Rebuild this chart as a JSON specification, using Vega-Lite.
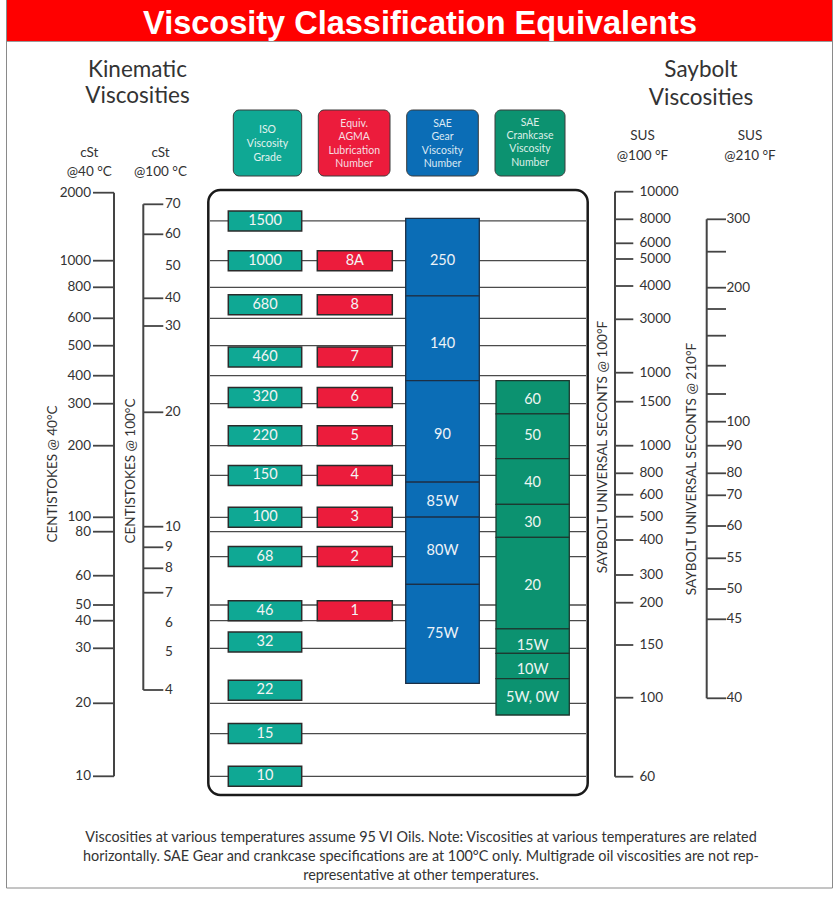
{
  "$schema": "https://vega.github.io/schema/vega-lite/v6.json",
  "width": 837,
  "height": 898,
  "padding": 0,
  "autosize": {"type": "none"},
  "background": "white",
  "config": {"view": {"stroke": null}, "axis": {"disable": true}, "text": {"font": "Lato", "color": "#333333"}},
  "datasets": {
    "cst40": [{"v": 2000}, {"v": 1000}, {"v": 800}, {"v": 600}, {"v": 500}, {"v": 400}, {"v": 300}, {"v": 200}, {"v": 100}, {"v": 80}, {"v": 60}, {"v": 50}, {"v": 40}, {"v": 30}, {"v": 20}, {"v": 10}],
    "gridlines": [{"v": 1500}, {"v": 1000}, {"v": 800}, {"v": 600}, {"v": 500}, {"v": 400}, {"v": 300}, {"v": 200}, {"v": 150}, {"v": 100}, {"v": 80}, {"v": 68}, {"v": 50}, {"v": 40}, {"v": 30}, {"v": 20}, {"v": 15}, {"v": 10}],
    "iso": [
      {"iso": 1500, "agma": null}, {"iso": 1000, "agma": "8A"}, {"iso": 680, "agma": "8"}, {"iso": 460, "agma": "7"},
      {"iso": 320, "agma": "6"}, {"iso": 220, "agma": "5"}, {"iso": 150, "agma": "4"}, {"iso": 100, "agma": "3"},
      {"iso": 68, "agma": "2"}, {"iso": 46, "agma": "1"}, {"iso": 32, "agma": null}, {"iso": 22, "agma": null},
      {"iso": 15, "agma": null}, {"iso": 10, "agma": null}
    ],
    "cst100": [
      {"v": 70, "tick": true}, {"v": 60, "tick": true}, {"v": 50, "tick": false}, {"v": 40, "tick": true},
      {"v": 30, "tick": true}, {"v": 20, "tick": true}, {"v": 10, "tick": true}, {"v": 9, "tick": true},
      {"v": 8, "tick": true}, {"v": 7, "tick": true}, {"v": 6, "tick": false}, {"v": 5, "tick": false}, {"v": 4, "tick": true}
    ],
    "gear": [
      {"sae": "250", "lo": 40.7, "hi": 65.1, "at": 51.5},
      {"sae": "140", "lo": 23.2, "hi": 40.7, "at": 27.6},
      {"sae": "90", "lo": 13.1, "hi": 23.2, "at": 17.4},
      {"sae": "85W", "lo": 10.6, "hi": 13.1, "at": 11.6},
      {"sae": "80W", "lo": 7.33, "hi": 10.6, "at": 8.8},
      {"sae": "75W", "lo": 4.16, "hi": 7.33, "at": 5.6}
    ],
    "crank": [
      {"sae": "60", "lo": 19.8, "hi": 23.2, "at": 21.2},
      {"sae": "50", "lo": 15.1, "hi": 19.8, "at": 17.3},
      {"sae": "40", "lo": 11.45, "hi": 15.1, "at": 13.0},
      {"sae": "30", "lo": 9.47, "hi": 11.45, "at": 10.2},
      {"sae": "20", "lo": 5.79, "hi": 9.47, "at": 7.26},
      {"sae": "15W", "lo": 4.97, "hi": 5.79, "at": 5.21},
      {"sae": "10W", "lo": 4.28, "hi": 4.97, "at": 4.49},
      {"sae": "5W, 0W", "lo": 3.45, "hi": 4.28, "at": 3.81}
    ],
    "sus100": [
      {"v": 10000, "t": "10000"}, {"v": 8000, "t": "8000"}, {"v": 6000, "t": "6000"}, {"v": 5000, "t": "5000"},
      {"v": 4000, "t": "4000"}, {"v": 3000, "t": "3000"}, {"v": 2000, "t": "1000"}, {"v": 1500, "t": "1500"},
      {"v": 1000, "t": "1000"}, {"v": 800, "t": "800"}, {"v": 600, "t": "600"}, {"v": 500, "t": "500"},
      {"v": 400, "t": "400"}, {"v": 300, "t": "300"}, {"v": 200, "t": "200"}, {"v": 150, "t": "150"},
      {"v": 100, "t": "100"}, {"v": 60, "t": "60"}
    ],
    "sus210": [
      {"v": 300, "t": "300"}, {"v": 250, "t": ""}, {"v": 200, "t": "200"}, {"v": 180, "t": ""},
      {"v": 160, "t": ""}, {"v": 140, "t": ""}, {"v": 120, "t": ""}, {"v": 100, "t": "100"},
      {"v": 90, "t": "90"}, {"v": 80, "t": "80"}, {"v": 70, "t": "70"}, {"v": 60, "t": "60"},
      {"v": 55, "t": "55"}, {"v": 50, "t": "50"}, {"v": 45, "t": "45"}, {"v": 40, "t": "40"}
    ]
  },
  "resolve": {"scale": {"y": "independent"}},
  "layer": [
    {
      "data": {"values": [{}]},
      "layer": [
        {"mark": {"type": "rect", "filled": false, "color": "#8a8a8a", "strokeWidth": 1},
         "encoding": {"x": {"datum": 6.5, "type": "quantitative", "scale": {"domain": [0, 837], "nice": false, "zero": false}}, "x2": {"datum": 832.5},
                      "y": {"datum": 0, "type": "quantitative", "scale": {"domain": [0, 898], "range": [0, 898], "nice": false, "zero": false}}, "y2": {"datum": 888}}},
        {"mark": {"type": "rect", "color": "#ff0000"},
         "encoding": {"x": {"datum": 7, "type": "quantitative"}, "x2": {"datum": 832}, "y": {"datum": 0, "type": "quantitative"}, "y2": {"datum": 41}}},
        {"mark": {"type": "rule", "color": "#9a9a9a", "strokeWidth": 1},
         "encoding": {"x": {"datum": 7, "type": "quantitative"}, "x2": {"datum": 832}, "y": {"datum": 41.5, "type": "quantitative"}}},
        {"mark": {"type": "text", "text": "Viscosity Classification Equivalents", "font": "Liberation Sans", "fontWeight": "bold", "fontSize": 32.5, "color": "#ffffff", "align": "center", "baseline": "alphabetic"},
         "encoding": {"x": {"datum": 420, "type": "quantitative"}, "y": {"datum": 33.5, "type": "quantitative"}}},
        {"mark": {"type": "text", "text": ["Kinematic", "Viscosities"], "fontSize": 22.5, "lineHeight": 26, "align": "center", "baseline": "alphabetic"},
         "encoding": {"x": {"datum": 137.5, "type": "quantitative"}, "y": {"datum": 77.3, "type": "quantitative"}}},
        {"mark": {"type": "text", "text": ["Saybolt", "Viscosities"], "fontSize": 22.5, "lineHeight": 28, "align": "center", "baseline": "alphabetic"},
         "encoding": {"x": {"datum": 701, "type": "quantitative"}, "y": {"datum": 76.7, "type": "quantitative"}}},
        {"mark": {"type": "text", "text": ["cSt", "@40 °C"], "fontSize": 13.5, "lineHeight": 19.5, "align": "center", "baseline": "alphabetic"},
         "encoding": {"x": {"datum": 89.3, "type": "quantitative"}, "y": {"datum": 156.5, "type": "quantitative"}}},
        {"mark": {"type": "text", "text": ["cSt", "@100 °C"], "fontSize": 13.5, "lineHeight": 19.5, "align": "center", "baseline": "alphabetic"},
         "encoding": {"x": {"datum": 160.5, "type": "quantitative"}, "y": {"datum": 156.5, "type": "quantitative"}}},
        {"mark": {"type": "text", "text": ["SUS", "@100 °F"], "fontSize": 13.5, "lineHeight": 19.5, "align": "center", "baseline": "alphabetic"},
         "encoding": {"x": {"datum": 642.5, "type": "quantitative"}, "y": {"datum": 140, "type": "quantitative"}}},
        {"mark": {"type": "text", "text": ["SUS", "@210 °F"], "fontSize": 13.5, "lineHeight": 19.5, "align": "center", "baseline": "alphabetic"},
         "encoding": {"x": {"datum": 750, "type": "quantitative"}, "y": {"datum": 140, "type": "quantitative"}}},
        {"mark": {"type": "rect", "color": "#0fa894", "stroke": "#3a3a3a", "strokeWidth": 1, "cornerRadius": 6},
         "encoding": {"x": {"datum": 233.3, "type": "quantitative"}, "x2": {"datum": 301.7}, "y": {"datum": 110, "type": "quantitative"}, "y2": {"datum": 176}}},
        {"mark": {"type": "rect", "color": "#ec1c3c", "stroke": "#3a3a3a", "strokeWidth": 1, "cornerRadius": 6},
         "encoding": {"x": {"datum": 318.3, "type": "quantitative"}, "x2": {"datum": 390}, "y": {"datum": 110, "type": "quantitative"}, "y2": {"datum": 176}}},
        {"mark": {"type": "rect", "color": "#0b6db6", "stroke": "#3a3a3a", "strokeWidth": 1, "cornerRadius": 6},
         "encoding": {"x": {"datum": 406.7, "type": "quantitative"}, "x2": {"datum": 478.3}, "y": {"datum": 110, "type": "quantitative"}, "y2": {"datum": 176}}},
        {"mark": {"type": "rect", "color": "#0c9270", "stroke": "#3a3a3a", "strokeWidth": 1, "cornerRadius": 6},
         "encoding": {"x": {"datum": 495, "type": "quantitative"}, "x2": {"datum": 565}, "y": {"datum": 110, "type": "quantitative"}, "y2": {"datum": 176}}},
        {"mark": {"type": "text", "text": ["ISO", "Viscosity", "Grade"], "fontSize": 10.5, "lineHeight": 14, "color": "#e2f3ef", "align": "center", "baseline": "middle"},
         "encoding": {"x": {"datum": 267.5, "type": "quantitative"}, "y": {"datum": 130, "type": "quantitative"}}},
        {"mark": {"type": "text", "text": ["Equiv.", "AGMA", "Lubrication", "Number"], "fontSize": 10.5, "lineHeight": 13.4, "color": "#f6dfe2", "align": "center", "baseline": "middle"},
         "encoding": {"x": {"datum": 354.2, "type": "quantitative"}, "y": {"datum": 124, "type": "quantitative"}}},
        {"mark": {"type": "text", "text": ["SAE", "Gear", "Viscosity", "Number"], "fontSize": 10.5, "lineHeight": 13.4, "color": "#dce9f4", "align": "center", "baseline": "middle"},
         "encoding": {"x": {"datum": 442.5, "type": "quantitative"}, "y": {"datum": 124, "type": "quantitative"}}},
        {"mark": {"type": "text", "text": ["SAE", "Crankcase", "Viscosity", "Number"], "fontSize": 10.5, "lineHeight": 13.4, "color": "#dcefe8", "align": "center", "baseline": "middle"},
         "encoding": {"x": {"datum": 530, "type": "quantitative"}, "y": {"datum": 122.7, "type": "quantitative"}}},
        {"mark": {"type": "rect", "filled": false, "color": "#1a1a1a", "strokeWidth": 2.5, "cornerRadius": 12},
         "encoding": {"x": {"datum": 208.3, "type": "quantitative"}, "x2": {"datum": 587.7}, "y": {"datum": 190, "type": "quantitative"}, "y2": {"datum": 795}}},
        {"mark": {"type": "text", "text": "CENTISTOKES @ 40°C", "fontSize": 13.5, "angle": 270, "align": "center", "baseline": "middle"},
         "encoding": {"x": {"datum": 53, "type": "quantitative"}, "y": {"datum": 474, "type": "quantitative"}}},
        {"mark": {"type": "text", "text": "CENTISTOKES @ 100°C", "fontSize": 13.5, "angle": 270, "align": "center", "baseline": "middle"},
         "encoding": {"x": {"datum": 131, "type": "quantitative"}, "y": {"datum": 471, "type": "quantitative"}}},
        {"mark": {"type": "text", "text": "SAYBOLT UNIVERSAL SECONTS @ 100°F", "fontSize": 13.6, "angle": 270, "align": "center", "baseline": "middle"},
         "encoding": {"x": {"datum": 603, "type": "quantitative"}, "y": {"datum": 447, "type": "quantitative"}}},
        {"mark": {"type": "text", "text": "SAYBOLT UNIVERSAL SECONTS @ 210°F", "fontSize": 13.6, "angle": 270, "align": "center", "baseline": "middle"},
         "encoding": {"x": {"datum": 692, "type": "quantitative"}, "y": {"datum": 469, "type": "quantitative"}}},
        {"mark": {"type": "text", "text": ["Viscosities at various temperatures assume 95 VI Oils. Note: Viscosities at various temperatures are related", "horizontally. SAE Gear and crankcase specifications are at 100°C only. Multigrade oil viscosities are not rep-", "representative at other temperatures."], "fontSize": 14.4, "lineHeight": 19, "align": "center", "baseline": "middle"},
         "encoding": {"x": {"datum": 421, "type": "quantitative"}, "y": {"datum": 838, "type": "quantitative"}}}
      ]
    },
    {
      "layer": [
        {"data": {"name": "gridlines"},
         "mark": {"type": "rule", "color": "#4a4a4a", "strokeWidth": 1.3},
         "encoding": {"x": {"datum": 210, "type": "quantitative"}, "x2": {"datum": 586},
                      "y": {"field": "v", "type": "quantitative", "scale": {"type": "log", "domain": [10, 20, 30, 40, 50, 60, 80, 100, 200, 300, 400, 500, 600, 800, 1000, 2000], "range": [776.3, 703.3, 648.3, 620.7, 605, 575.7, 531.7, 517.3, 445.7, 403.7, 375.7, 345.7, 318.3, 287.3, 260.7, 192.7], "nice": false}}}},
        {"data": {"values": [{}]},
         "mark": {"type": "rule", "color": "#444444", "strokeWidth": 2},
         "encoding": {"x": {"datum": 114, "type": "quantitative"}, "y": {"datum": 10, "type": "quantitative"}, "y2": {"datum": 2000}}},
        {"data": {"name": "cst40"},
         "mark": {"type": "rule", "color": "#444444", "strokeWidth": 1.8},
         "encoding": {"x": {"datum": 93, "type": "quantitative"}, "x2": {"datum": 114}, "y": {"field": "v", "type": "quantitative"}}},
        {"data": {"name": "cst40"},
         "mark": {"type": "text", "fontSize": 13.5, "align": "right", "baseline": "middle"},
         "encoding": {"x": {"datum": 91, "type": "quantitative"}, "y": {"field": "v", "type": "quantitative"}, "text": {"field": "v", "type": "nominal"}}},
        {"data": {"name": "iso"},
         "mark": {"type": "rect", "height": 20, "color": "#0fa894", "stroke": "#2b2b2b", "strokeWidth": 1.5},
         "encoding": {"x": {"datum": 228.3, "type": "quantitative"}, "x2": {"datum": 301.7}, "y": {"field": "iso", "type": "quantitative"}}},
        {"data": {"name": "iso"},
         "mark": {"type": "text", "fontSize": 14.5, "color": "#f4f4f4", "align": "center", "baseline": "middle"},
         "encoding": {"x": {"datum": 265, "type": "quantitative"}, "y": {"field": "iso", "type": "quantitative"}, "text": {"field": "iso", "type": "nominal"}}},
        {"data": {"name": "iso"},
         "transform": [{"filter": "datum.agma != null"}],
         "mark": {"type": "rect", "height": 20, "color": "#ec1c3c", "stroke": "#2b2b2b", "strokeWidth": 1.5},
         "encoding": {"x": {"datum": 317.3, "type": "quantitative"}, "x2": {"datum": 392.3}, "y": {"field": "iso", "type": "quantitative"}}},
        {"data": {"name": "iso"},
         "transform": [{"filter": "datum.agma != null"}],
         "mark": {"type": "text", "fontSize": 14.5, "color": "#f4f4f4", "align": "center", "baseline": "middle"},
         "encoding": {"x": {"datum": 354.8, "type": "quantitative"}, "y": {"field": "iso", "type": "quantitative"}, "text": {"field": "agma", "type": "nominal"}}}
      ]
    },
    {
      "layer": [
        {"data": {"values": [{}]},
         "mark": {"type": "rule", "color": "#444444", "strokeWidth": 2},
         "encoding": {"x": {"datum": 143.3, "type": "quantitative"},
                      "y": {"datum": 4, "type": "quantitative", "scale": {"type": "log", "domain": [4, 5, 6, 7, 8, 9, 10, 20, 30, 40, 50, 60, 70], "range": [690, 652.3, 623.3, 592.7, 568.3, 547.3, 526.7, 412.3, 326, 298.3, 266, 234.3, 204.3], "nice": false}},
                      "y2": {"datum": 70}}},
        {"data": {"name": "cst100"},
         "transform": [{"filter": "datum.tick"}],
         "mark": {"type": "rule", "color": "#444444", "strokeWidth": 1.8},
         "encoding": {"x": {"datum": 143.3, "type": "quantitative"}, "x2": {"datum": 163.3}, "y": {"field": "v", "type": "quantitative"}}},
        {"data": {"name": "cst100"},
         "mark": {"type": "text", "fontSize": 13.5, "align": "left", "baseline": "middle"},
         "encoding": {"x": {"datum": 165, "type": "quantitative"}, "y": {"field": "v", "type": "quantitative"}, "text": {"field": "v", "type": "nominal"}}},
        {"data": {"name": "gear"},
         "mark": {"type": "rect", "color": "#0b6db6", "stroke": "#1c2f45", "strokeWidth": 1.3},
         "encoding": {"x": {"datum": 405.7, "type": "quantitative"}, "x2": {"datum": 479.3}, "y": {"field": "lo", "type": "quantitative"}, "y2": {"field": "hi"}}},
        {"data": {"name": "gear"},
         "mark": {"type": "text", "fontSize": 14.5, "color": "#eef3f8", "align": "center", "baseline": "middle"},
         "encoding": {"x": {"datum": 442.5, "type": "quantitative"}, "y": {"field": "at", "type": "quantitative"}, "text": {"field": "sae", "type": "nominal"}}},
        {"data": {"name": "crank"},
         "mark": {"type": "rect", "color": "#0c9270", "stroke": "#1c3a30", "strokeWidth": 1.3},
         "encoding": {"x": {"datum": 496, "type": "quantitative"}, "x2": {"datum": 569.3}, "y": {"field": "lo", "type": "quantitative"}, "y2": {"field": "hi"}}},
        {"data": {"name": "crank"},
         "mark": {"type": "text", "fontSize": 14.5, "color": "#eef5f2", "align": "center", "baseline": "middle"},
         "encoding": {"x": {"datum": 532.6, "type": "quantitative"}, "y": {"field": "at", "type": "quantitative"}, "text": {"field": "sae", "type": "nominal"}}}
      ]
    },
    {
      "layer": [
        {"data": {"values": [{}]},
         "mark": {"type": "rule", "color": "#444444", "strokeWidth": 2},
         "encoding": {"x": {"datum": 615, "type": "quantitative"},
                      "y": {"datum": 60, "type": "quantitative", "scale": {"type": "log", "domain": [60, 100, 150, 200, 300, 400, 500, 600, 800, 1000, 1500, 2000, 3000, 4000, 5000, 6000, 8000, 10000], "range": [776.7, 697.7, 645, 602.7, 575, 540, 516.7, 494.7, 473.3, 445.7, 401.7, 372.7, 319.3, 286, 259, 243.3, 219.3, 191.7], "nice": false}},
                      "y2": {"datum": 10000}}},
        {"data": {"name": "sus100"},
         "mark": {"type": "rule", "color": "#444444", "strokeWidth": 1.8},
         "encoding": {"x": {"datum": 615, "type": "quantitative"}, "x2": {"datum": 633.3}, "y": {"field": "v", "type": "quantitative"}}},
        {"data": {"name": "sus100"},
         "mark": {"type": "text", "fontSize": 13.5, "align": "left", "baseline": "middle"},
         "encoding": {"x": {"datum": 639.5, "type": "quantitative"}, "y": {"field": "v", "type": "quantitative"}, "text": {"field": "t", "type": "nominal"}}}
      ]
    },
    {
      "layer": [
        {"data": {"values": [{}]},
         "mark": {"type": "rule", "color": "#444444", "strokeWidth": 2},
         "encoding": {"x": {"datum": 706.7, "type": "quantitative"},
                      "y": {"datum": 40, "type": "quantitative", "scale": {"type": "log", "domain": [40, 45, 50, 55, 60, 70, 80, 90, 100, 120, 140, 160, 180, 200, 250, 300], "range": [698.3, 619.3, 589, 558.3, 526, 495.3, 473.3, 445.7, 421.7, 394, 365.7, 335.7, 309, 287.7, 251.7, 219.3], "nice": false}},
                      "y2": {"datum": 300}}},
        {"data": {"name": "sus210"},
         "mark": {"type": "rule", "color": "#444444", "strokeWidth": 1.8},
         "encoding": {"x": {"datum": 706.7, "type": "quantitative"}, "x2": {"datum": 726}, "y": {"field": "v", "type": "quantitative"}}},
        {"data": {"name": "sus210"},
         "mark": {"type": "text", "fontSize": 13.5, "align": "left", "baseline": "middle"},
         "encoding": {"x": {"datum": 726.5, "type": "quantitative"}, "y": {"field": "v", "type": "quantitative"}, "text": {"field": "t", "type": "nominal"}}}
      ]
    }
  ]
}
